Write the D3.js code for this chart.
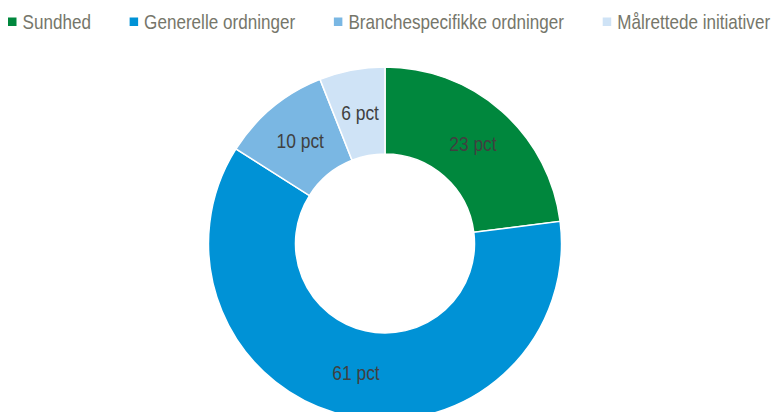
<!DOCTYPE html>
<html>
<head>
<meta charset="utf-8">
<script src="https://cdn.jsdelivr.net/npm/d3@7"></script>
<style>
  body { margin: 0; background: #fff; }
  svg { display: block; font-family: "Liberation Sans", Arial, sans-serif; }
</style>
</head>
<body>
<svg id="chart" width="772" height="412"></svg>
<script>
const categories = ["Sundhed", "Generelle ordninger", "Branchespecifikke ordninger", "Målrettede initiativer"];
const values = [23, 61, 10, 6];
const labels = ["23 pct", "61 pct", "10 pct", "6 pct"];
const colors = ["#00873d", "#0092d6", "#7ab7e3", "#cfe3f6"];

const cx = 385;
const cy = 243.5;
const outerR = 176.5;
const innerR = 89.5;
const squeeze = 0.855; // the original font is narrow

const svg = d3.select("#chart");

const data = categories.map((c, i) => ({ name: c, value: values[i], label: labels[i], color: colors[i] }));

const pie = d3.pie().value(d => d.value).sort(null);
const arc = d3.arc().innerRadius(innerR).outerRadius(outerR);

const g = svg.append("g").attr("transform", `translate(${cx},${cy})`);

const slices = g.selectAll("g.slice")
  .data(pie(data))
  .join("g")
  .attr("class", "slice");

slices.append("path")
  .attr("d", arc)
  .attr("fill", d => d.data.color)
  .attr("stroke", "#fff")
  .attr("stroke-width", 1.5);

slices.append("text")
  .attr("transform", d => {
    const [x, y] = arc.centroid(d);
    return `translate(${x},${y + 7}) scale(0.87,1)`;
  })
  .attr("text-anchor", "middle")
  .attr("font-size", 20)
  .attr("fill", "#404040")
  .text(d => d.data.label);

// Legend
const legend = svg.append("g");
let lx = 8;
data.forEach(d => {
  const item = legend.append("g").attr("transform", `translate(${lx},0)`);
  item.append("rect")
    .attr("x", 0)
    .attr("y", 17.5)
    .attr("width", 8.5)
    .attr("height", 8.5)
    .attr("fill", d.color);
  const t = item.append("text")
    .attr("transform", `translate(14.5,29) scale(${squeeze},1)`)
    .attr("font-size", 20)
    .attr("fill", "#76766a")
    .text(d.name);
  const w = t.node().getComputedTextLength() * squeeze;
  lx += 14.5 + w + 38.7;
});
</script>
</body>
</html>
